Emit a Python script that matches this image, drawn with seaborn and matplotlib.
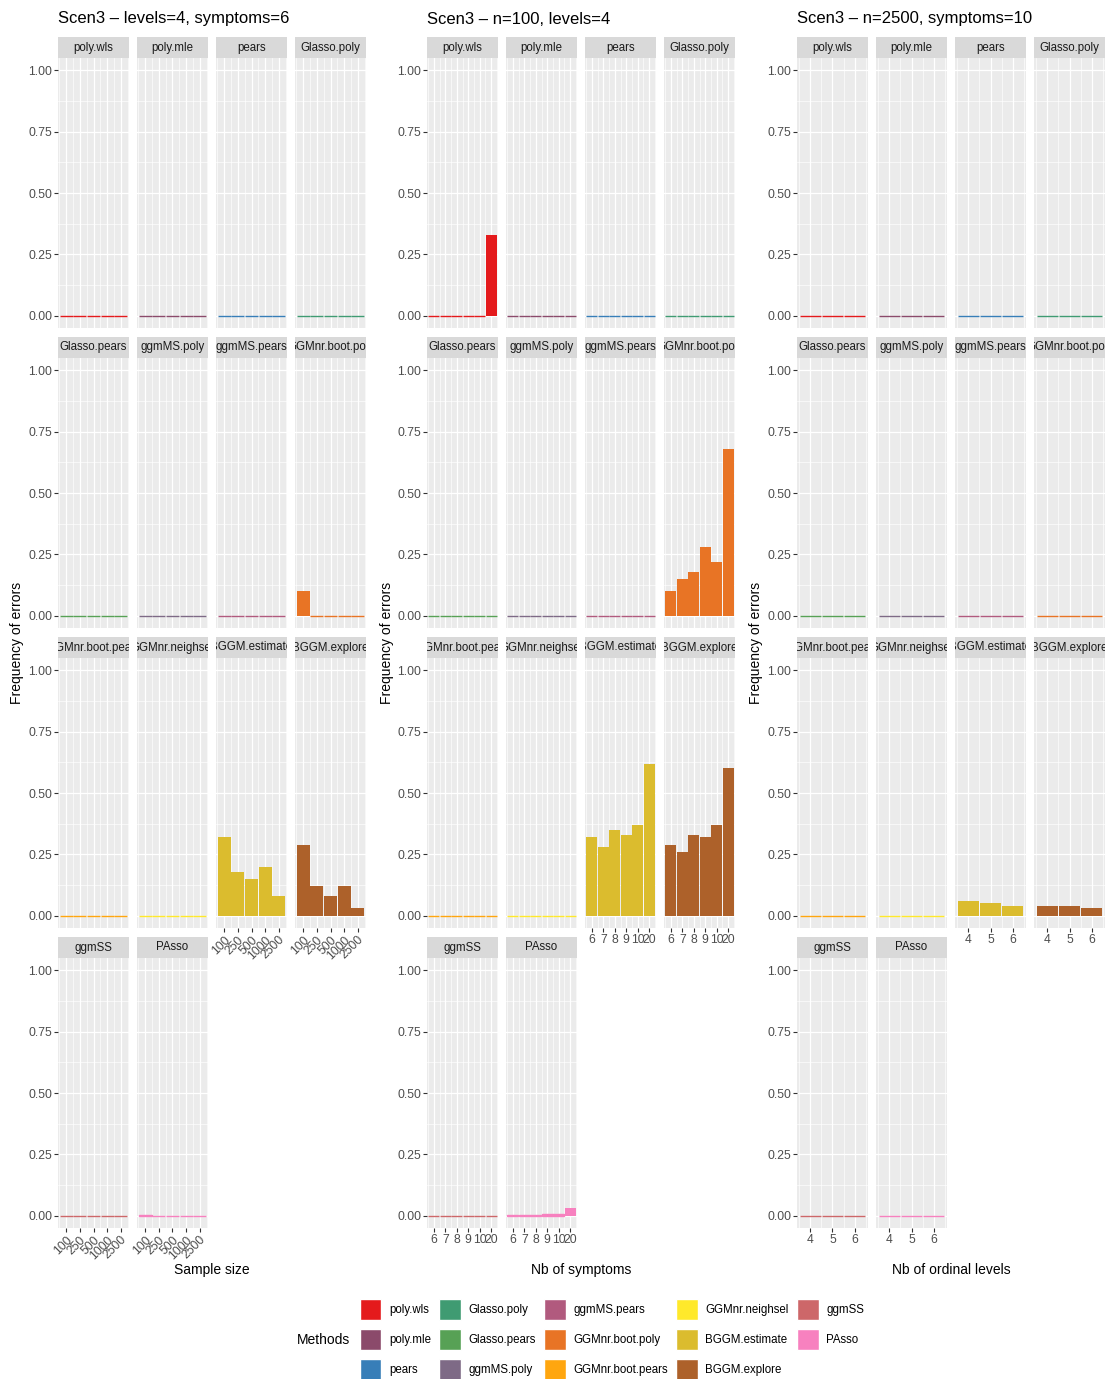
import matplotlib
matplotlib.use("Agg")
import matplotlib.pyplot as plt
from matplotlib.patches import Patch
import pandas as pd
import seaborn as sns

plt.rcParams['font.family'] = ['Liberation Sans', 'DejaVu Sans']

methods = ['poly.wls', 'poly.mle', 'pears', 'Glasso.poly', 'Glasso.pears', 'ggmMS.poly',
           'ggmMS.pears', 'GGMnr.boot.poly', 'GGMnr.boot.pears', 'GGMnr.neighsel',
           'BGGM.estimate', 'BGGM.explore', 'ggmSS', 'PAsso']
colors = ['#E41A1C', '#8B4A6B', '#377EB8', '#3F9B72', '#57A155', '#7E6A86',
          '#B15A7E', '#E87425', '#FFA60F', '#FFE92B', '#DBBC2E', '#AD612A',
          '#CD6769', '#F781BF']

sizes = ['100', '250', '500', '1000', '2500']
symptoms = ['6', '7', '8', '9', '10', '20']
levels = ['4', '5', '6']

titles = ['Scen3 \u2013 levels=4, symptoms=6', 'Scen3 \u2013 n=100, levels=4',
          'Scen3 \u2013 n=2500, symptoms=10']
xlabels = ['Sample size', 'Nb of symptoms', 'Nb of ordinal levels']

# non-zero series (everything else is 0)
p1_ggmnr_boot_poly = [0.10, 0, 0, 0, 0]
p1_bggm_estimate = [0.32, 0.18, 0.15, 0.20, 0.08]
p1_bggm_explore = [0.29, 0.12, 0.08, 0.12, 0.03]
p1_passo = [0.004, 0, 0, 0, 0]

p2_poly_wls = [0, 0, 0, 0, 0, 0.33]
p2_ggmnr_boot_poly = [0.10, 0.15, 0.18, 0.28, 0.22, 0.68]
p2_bggm_estimate = [0.32, 0.28, 0.35, 0.33, 0.37, 0.62]
p2_bggm_explore = [0.29, 0.26, 0.33, 0.32, 0.37, 0.60]
p2_passo = [0.002, 0.002, 0.002, 0.008, 0.008, 0.033]

p3_bggm_estimate = [0.06, 0.053, 0.041]
p3_bggm_explore = [0.041, 0.041, 0.033]

panels = [
    (sizes, {'GGMnr.boot.poly': p1_ggmnr_boot_poly, 'BGGM.estimate': p1_bggm_estimate,
             'BGGM.explore': p1_bggm_explore, 'PAsso': p1_passo}),
    (symptoms, {'poly.wls': p2_poly_wls, 'GGMnr.boot.poly': p2_ggmnr_boot_poly,
                'BGGM.estimate': p2_bggm_estimate, 'BGGM.explore': p2_bggm_explore,
                'PAsso': p2_passo}),
    (levels, {'BGGM.estimate': p3_bggm_estimate, 'BGGM.explore': p3_bggm_explore}),
]

W, H = 1109, 1379
fig = plt.figure(figsize=(W / 100, H / 100), dpi=100)


def rect(x, y, w, h):
    return [x / W, 1 - (y + h) / H, w / W, h / H]


panel_x0 = [58, 427, 797]
yt = [0, 0.25, 0.5, 0.75, 1.0]

for p, (cats, series) in enumerate(panels):
    n = len(cats)
    for i, m in enumerate(methods):
        r, c = divmod(i, 4)
        x = panel_x0[p] + 79 * c
        y = 58 + 300 * r
        ax = fig.add_axes(rect(x, y, 71, 270))
        ax.set_facecolor('#EBEBEB')
        vals = series.get(m, [0] * n)
        df = pd.DataFrame({'x': cats, 'y': vals})
        sns.barplot(data=df, x='x', y='y', order=cats, color=colors[i], width=0.94,
                    linewidth=0, saturation=1, errorbar=None, ax=ax)
        for patch in ax.patches:
            if patch.get_height() < 0.01:
                patch.set_edgecolor(colors[i])
                patch.set_linewidth(1.0)
        ax.set_xlim(-0.6, n - 0.4)
        ax.set_ylim(-0.05, 1.05)
        ax.set_xlabel('')
        ax.set_ylabel('')
        for s in ax.spines.values():
            s.set_visible(False)
        ax.set_xticks(range(n))
        ax.set_xticks([k + 0.5 for k in range(-1, n)], minor=True)
        ax.set_yticks(yt)
        ax.set_yticks([0.125, 0.375, 0.625, 0.875], minor=True)
        ax.set_yticklabels(['%.2f' % v for v in yt])
        ax.grid(which='major', color='white', linewidth=0.9)
        ax.grid(which='minor', color='white', linewidth=0.45)
        ax.set_axisbelow(True)
        ax.tick_params(which='minor', length=0)
        ax.tick_params(which='major', length=2.7, width=0.8, color='#333333',
                       labelcolor='#4D4D4D', labelsize=8.7, pad=1.5)
        bottom = (r == 3) or (r == 2 and c >= 2)
        if not bottom:
            ax.tick_params(bottom=False, labelbottom=False)
        elif p == 0:
            ax.set_xticklabels(cats, rotation=45, ha='right', va='top',
                               rotation_mode='anchor')
        if c != 0:
            ax.tick_params(left=False, labelleft=False)

        sax = fig.add_axes(rect(x, 300 * r + 37, 71, 21))
        sax.set_facecolor('#D9D9D9')
        sax.set_xticks([])
        sax.set_yticks([])
        for s in sax.spines.values():
            s.set_visible(False)
        sax.text(0.5, 0.5, m, transform=sax.transAxes, ha='center', va='center',
                 fontsize=8.3, color='#1A1A1A', clip_on=True)

    fig.text(panel_x0[p] / W, 1 - 19 / H, titles[p], ha='left', va='center', fontsize=12)
    fig.text((17 + 369.5 * p) / W, 1 - 643 / H, 'Frequency of errors', rotation=90,
             ha='center', va='center', fontsize=10)
    fig.text((212 + 369.5 * p) / W, 1 - 1270 / H, xlabels[p], ha='center',
             va='center', fontsize=10)

fig.text(297 / W, 1 - 1340 / H, 'Methods', ha='left', va='center', fontsize=10)
handles = [Patch(facecolor=col, edgecolor='white', label=m) for m, col in zip(methods, colors)]
fig.legend(handles=handles, loc='upper left', bbox_to_anchor=(360 / W, 1 - 1299 / H),
           ncol=5, frameon=False, fontsize=8.3, handlelength=1.85, handleheight=2.43,
           labelspacing=0.78, handletextpad=0.65, columnspacing=0.75, borderpad=0,
           borderaxespad=0)

fig.savefig('out.png', dpi=100)
